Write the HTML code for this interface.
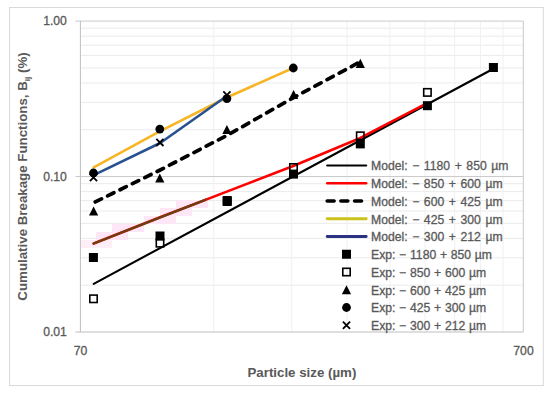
<!DOCTYPE html>
<html><head><meta charset="utf-8"><style>
html,body{margin:0;padding:0;background:#fff;}
svg{display:block;font-family:"Liberation Sans",sans-serif;}
.mi{stroke:#ebebeb;stroke-width:1;}
.mv{stroke:#f0f0f0;stroke-width:1;}
.ma{stroke:#c9c9c9;stroke-width:1;}
.ax{stroke:#bfbfbf;stroke-width:1;}
.yl{font-size:12.2px;fill:#595959;stroke:#595959;stroke-width:0.3px;}
.lg{font-size:12.2px;fill:#595959;stroke:#595959;stroke-width:0.3px;}
.ti{font-size:13.3px;font-weight:bold;fill:#595959;}
</style></head><body>
<svg width="550" height="394" viewBox="0 0 550 394">
<rect x="9.5" y="7.5" width="533.8" height="378" fill="#fff" stroke="#d9d9d9" stroke-width="1"/>
<line x1="80.4" x2="523.3" y1="285.20" y2="285.20" class="mi"/>
<line x1="80.4" x2="523.3" y1="257.83" y2="257.83" class="mi"/>
<line x1="80.4" x2="523.3" y1="238.41" y2="238.41" class="mi"/>
<line x1="80.4" x2="523.3" y1="223.35" y2="223.35" class="mi"/>
<line x1="80.4" x2="523.3" y1="211.04" y2="211.04" class="mi"/>
<line x1="80.4" x2="523.3" y1="200.63" y2="200.63" class="mi"/>
<line x1="80.4" x2="523.3" y1="191.61" y2="191.61" class="mi"/>
<line x1="80.4" x2="523.3" y1="183.66" y2="183.66" class="mi"/>
<line x1="80.4" x2="523.3" y1="129.75" y2="129.75" class="mi"/>
<line x1="80.4" x2="523.3" y1="102.38" y2="102.38" class="mi"/>
<line x1="80.4" x2="523.3" y1="82.96" y2="82.96" class="mi"/>
<line x1="80.4" x2="523.3" y1="67.90" y2="67.90" class="mi"/>
<line x1="80.4" x2="523.3" y1="55.59" y2="55.59" class="mi"/>
<line x1="80.4" x2="523.3" y1="45.18" y2="45.18" class="mi"/>
<line x1="80.4" x2="523.3" y1="36.16" y2="36.16" class="mi"/>
<line x1="80.4" x2="523.3" y1="28.21" y2="28.21" class="mi"/>
<line y1="21.1" y2="332" x1="213.73" x2="213.73" class="mv"/>
<line y1="21.1" y2="332" x1="291.72" x2="291.72" class="mv"/>
<line y1="21.1" y2="332" x1="347.05" x2="347.05" class="mv"/>
<line y1="21.1" y2="332" x1="389.97" x2="389.97" class="mv"/>
<line y1="21.1" y2="332" x1="425.04" x2="425.04" class="mv"/>
<line y1="21.1" y2="332" x1="454.69" x2="454.69" class="mv"/>
<line y1="21.1" y2="332" x1="480.38" x2="480.38" class="mv"/>
<line y1="21.1" y2="332" x1="503.03" x2="503.03" class="mv"/>
<line x1="75.4" x2="523.3" y1="21.1" y2="21.1" class="ma"/>
<line x1="75.4" x2="523.3" y1="176.55" y2="176.55" class="ma"/>
<line x1="523.3" x2="523.3" y1="21.1" y2="332" class="ma"/>
<line x1="75.4" x2="523.3" y1="332" y2="332" class="ax"/>
<line x1="80.4" x2="80.4" y1="21.1" y2="332" class="ax"/>
<rect x="81" y="240" width="31" height="8" fill="#fdeef8"/>
<rect x="96" y="232" width="32" height="8" fill="#fde6f6"/>
<rect x="112" y="224" width="32" height="8" fill="#fde6f6"/>
<rect x="144" y="216" width="32" height="8" fill="#fde6f6"/>
<rect x="160" y="208" width="32" height="8" fill="#fde6f6"/>
<rect x="176" y="200" width="32" height="8" fill="#fde6f6"/>
<polyline points="93.7,283.8 492.9,69.0" fill="none" stroke="#000" stroke-width="2.1" stroke-linecap="round" stroke-linejoin="round"/>
<polyline points="93.7,243.5 160.2,217.3 226.8,191.6 293.2,166.0 359.8,138.2 426.7,103.4" fill="none" stroke="#f00" stroke-width="2.6" stroke-linecap="round" stroke-linejoin="round"/>
<polyline points="93.7,243.5 160.2,217.3 205.4,199.8" fill="none" stroke="#6b3f14" stroke-width="2.4" stroke-linecap="round" stroke-linejoin="round"/>
<polyline points="93.7,202.7 160.2,170.0 226.8,135.5 293.2,97.8 359.8,62.0" fill="none" stroke="#000" stroke-width="3.7" stroke-dasharray="7 6.8" stroke-dashoffset="-1.7" stroke-linecap="round" stroke-linejoin="round"/>
<polyline points="93.7,167.4 160.2,131.2 226.8,97.5 293.2,68.0" fill="none" stroke="#f7b526" stroke-width="2.6" stroke-linecap="round" stroke-linejoin="round"/>
<polyline points="93.7,175.2 160.2,143.0 226.8,96.0" fill="none" stroke="#29518f" stroke-width="2.6" stroke-linecap="round" stroke-linejoin="round"/>
<rect x="88.90" y="253.00" width="9" height="9" fill="#000"/>
<rect x="155.50" y="231.50" width="9" height="9" fill="#000"/>
<rect x="222.70" y="196.00" width="9" height="9" fill="#000"/>
<rect x="289.00" y="169.60" width="9" height="9" fill="#000"/>
<rect x="355.80" y="139.40" width="9" height="9" fill="#000"/>
<rect x="422.90" y="101.20" width="9" height="9" fill="#000"/>
<rect x="488.90" y="63.00" width="9" height="9" fill="#000"/>
<rect x="89.80" y="295.10" width="7.4" height="7.4" fill="none" stroke="#000" stroke-width="1.6"/>
<rect x="156.30" y="239.50" width="7.4" height="7.4" fill="none" stroke="#000" stroke-width="1.6"/>
<rect x="223.50" y="197.80" width="7.4" height="7.4" fill="none" stroke="#000" stroke-width="1.6"/>
<rect x="289.80" y="163.80" width="7.4" height="7.4" fill="none" stroke="#000" stroke-width="1.6"/>
<rect x="356.60" y="132.10" width="7.4" height="7.4" fill="none" stroke="#000" stroke-width="1.6"/>
<rect x="423.70" y="88.70" width="7.4" height="7.4" fill="none" stroke="#000" stroke-width="1.6"/>
<polygon points="93.60,206.40 98.20,215.60 89.00,215.60" fill="#000"/>
<polygon points="159.80,173.40 164.40,182.60 155.20,182.60" fill="#000"/>
<polygon points="226.90,124.90 231.50,134.10 222.30,134.10" fill="#000"/>
<polygon points="293.60,89.90 298.20,99.10 289.00,99.10" fill="#000"/>
<polygon points="360.30,58.80 364.90,68.00 355.70,68.00" fill="#000"/>
<circle cx="93.50" cy="173.00" r="4.4" fill="#000"/>
<circle cx="159.80" cy="129.10" r="4.4" fill="#000"/>
<circle cx="226.90" cy="98.60" r="4.4" fill="#000"/>
<circle cx="293.30" cy="68.00" r="4.4" fill="#000"/>
<path d="M89.90,173.90L97.10,181.10M97.10,173.90L89.90,181.10" stroke="#000" stroke-width="1.8" fill="none"/>
<path d="M156.30,138.80L163.50,146.00M163.50,138.80L156.30,146.00" stroke="#000" stroke-width="1.8" fill="none"/>
<path d="M223.30,91.40L230.50,98.60M230.50,91.40L223.30,98.60" stroke="#000" stroke-width="1.8" fill="none"/>
<line x1="327.2" x2="366.2" y1="165.5" y2="165.5" stroke="#000" stroke-width="2.1" stroke-linecap="round"/>
<line x1="327.2" x2="366.2" y1="183.25" y2="183.25" stroke="#f00" stroke-width="2.4" stroke-linecap="round"/>
<line x1="327.2" x2="366.2" y1="201.0" y2="201.0" stroke="#000" stroke-width="3.6" stroke-dasharray="6.9 6.8" stroke-linecap="round"/>
<line x1="327.2" x2="366.2" y1="218.75" y2="218.75" stroke="#cbc31c" stroke-width="2.9" stroke-linecap="round"/>
<line x1="327.2" x2="366.2" y1="236.5" y2="236.5" stroke="#2b3282" stroke-width="2.8" stroke-linecap="round"/>
<rect x="342.00" y="249.75" width="9" height="9" fill="#000"/>
<rect x="342.80" y="268.30" width="7.4" height="7.4" fill="none" stroke="#000" stroke-width="1.6"/>
<polygon points="346.50,285.15 351.10,294.35 341.90,294.35" fill="#000"/>
<circle cx="346.50" cy="307.50" r="4.4" fill="#000"/>
<path d="M342.90,321.65L350.10,328.85M350.10,321.65L342.90,328.85" stroke="#000" stroke-width="1.8" fill="none"/>
<text x="371" y="170.30" class="lg" word-spacing="1.2">Model: − 1180 + 850 µm</text>
<text x="371" y="188.05" class="lg" word-spacing="1.2">Model: − 850 + 600 µm</text>
<text x="371" y="205.80" class="lg" word-spacing="1.2">Model: − 600 + 425 µm</text>
<text x="371" y="223.55" class="lg" word-spacing="1.2">Model: − 425 + 300 µm</text>
<text x="371" y="241.30" class="lg" word-spacing="1.2">Model: − 300 + 212 µm</text>
<text x="371" y="259.05" class="lg" word-spacing="0.35">Exp: − 1180 + 850 µm</text>
<text x="371" y="276.80" class="lg" word-spacing="0.35">Exp: − 850 + 600 µm</text>
<text x="371" y="294.55" class="lg" word-spacing="0.35">Exp: − 600 + 425 µm</text>
<text x="371" y="312.30" class="lg" word-spacing="0.35">Exp: − 425 + 300 µm</text>
<text x="371" y="330.05" class="lg" word-spacing="0.35">Exp: − 300 + 212 µm</text>
<text x="66.9" y="25.3" class="yl" text-anchor="end">1.00</text>
<text x="66.9" y="180.6" class="yl" text-anchor="end">0.10</text>
<text x="66.9" y="336.1" class="yl" text-anchor="end">0.01</text>
<text x="80.6" y="354.7" class="yl" text-anchor="middle">70</text>
<text x="523.5" y="354.7" class="yl" text-anchor="middle">700</text>
<text x="301.9" y="377.4" class="ti" text-anchor="middle">Particle size (µm)</text>
<text transform="translate(26.6,176.5) rotate(-90)" class="ti" text-anchor="middle">Cumulative Breakage Functions, B<tspan font-size="8" dy="3">ij</tspan><tspan dy="-3"> (%)</tspan></text>
</svg>
</body></html>
